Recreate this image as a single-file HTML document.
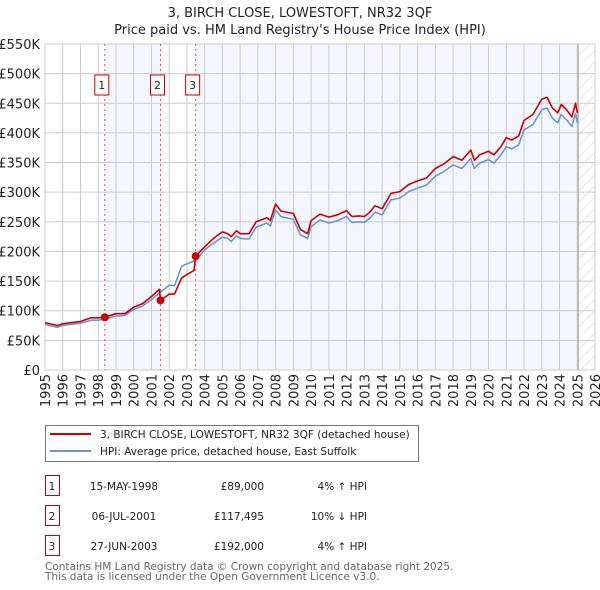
<!DOCTYPE html>
<html><head><meta charset="utf-8"><style>
body{margin:0;background:#fff;font-family:"DejaVu Sans","Liberation Sans",sans-serif;}
#wrap{position:relative;width:600px;height:590px;overflow:hidden}
svg text{font-family:"DejaVu Sans","Liberation Sans",sans-serif}
</style></head><body><div id="wrap">
<svg id="c" width="600" height="590"></svg>
</div>
<script>
const hpiDates=[1995.0,1995.7,1996.0,1997.0,1997.6,1998.0,1998.37,1999.0,1999.5,2000.0,2000.5,2001.0,2001.5,2002.0,2002.3,2002.7,2003.0,2003.5,2004.0,2004.5,2005.0,2005.3,2005.5,2005.8,2006.0,2006.5,2006.9,2007.5,2007.7,2008.0,2008.3,2009.0,2009.4,2009.8,2010.0,2010.5,2011.0,2011.5,2012.0,2012.3,2012.7,2013.0,2013.3,2013.6,2014.0,2014.5,2015.0,2015.5,2016.0,2016.5,2017.0,2017.5,2018.0,2018.5,2019.0,2019.2,2019.5,2020.0,2020.3,2020.7,2021.0,2021.3,2021.7,2022.0,2022.5,2023.0,2023.3,2023.6,2023.9,2024.1,2024.4,2024.7,2024.9,2025.0];
const hpiValues=[77,72,75,79,84,84,86,91,92,102,108,119,131,143,142,175,179,185,203,214,224,222,217,226,222,221,241,248,243,270,259,254,228,222,242,253,248,252,259,249,250,249,256,266,262,287,290,301,307,312,327,335,346,340,357,340,349,355,349,363,377,373,380,405,414,439,442,425,417,431,422,411,433,417];
const priceDates=[1995.0,1995.7,1996.0,1997.0,1997.6,1998.0,1998.37,1999.0,1999.5,2000.0,2000.5,2001.0,2001.45,2001.51,2002.0,2002.3,2002.7,2003.0,2003.4,2003.49,2004.0,2004.5,2005.0,2005.3,2005.5,2005.8,2006.0,2006.5,2006.9,2007.5,2007.7,2008.0,2008.3,2009.0,2009.4,2009.8,2010.0,2010.5,2011.0,2011.5,2012.0,2012.3,2012.7,2013.0,2013.3,2013.6,2014.0,2014.5,2015.0,2015.5,2016.0,2016.5,2017.0,2017.5,2018.0,2018.5,2019.0,2019.2,2019.5,2020.0,2020.3,2020.7,2021.0,2021.3,2021.7,2022.0,2022.5,2023.0,2023.3,2023.6,2023.9,2024.1,2024.4,2024.7,2024.9,2025.0];
const priceValues=[80,75,78,82,88,88,89,95,95,106,112,124,136,117.5,128,128,155,161,168,192,208,222,233,230,225,235,230,230,250,257,252,280,268,264,237,230,252,263,258,262,269,259,260,259,266,277,272,298,301,313,319,324,340,348,360,354,371,354,363,369,363,377,392,388,395,421,431,457,460,442,434,448,439,427,450,434];
const saleDates=[1998.37,2001.51,2003.49];
const saleValues=[89,117.5,192];
const saleLabels=["1","2","3"];
const yTicks=[0,50,100,150,200,250,300,350,400,450,500,550];
const yTickLabels=["£0","£50K","£100K","£150K","£200K","£250K","£300K","£350K","£400K","£450K","£500K","£550K"];
const xYears=[1995,1996,1997,1998,1999,2000,2001,2002,2003,2004,2005,2006,2007,2008,2009,2010,2011,2012,2013,2014,2015,2016,2017,2018,2019,2020,2021,2022,2023,2024,2025,2026];
const dataEnd=2025.05;

const L=45,R=595,T=44,B=370;
const x=v=>L+(v-1995)/(2026-1995)*(R-L);
const y=v=>B-v/550*(B-T);
const NS="http://www.w3.org/2000/svg";
const svg=document.getElementById('c');
function mk(tag,at,parent){const e=document.createElementNS(NS,tag);for(const k in at)e.setAttribute(k,at[k]);(parent||svg).appendChild(e);return e;}

let t=mk('text',{x:300,y:17,'text-anchor':'middle','font-size':13,fill:'#222'});t.textContent="3, BIRCH CLOSE, LOWESTOFT, NR32 3QF";


t=mk('text',{x:300,y:34,'text-anchor':'middle','font-size':13,fill:'#222'});t.textContent="Price paid vs. HM Land Registry's House Price Index (HPI)";



const defs=mk('defs',{});
const pat=mk('pattern',{id:'hatch',width:8,height:8,patternUnits:'userSpaceOnUse',patternTransform:'rotate(45)'},defs);
mk('line',{x1:0,y1:0,x2:0,y2:8,stroke:'#ccc','stroke-width':1},pat);

let s=mk('rect',{x:x(saleDates[0]),y:T,width:x(saleDates[1])-x(saleDates[0]),height:B-T,fill:'#f3f6fd'});


s=mk('rect',{x:x(saleDates[2]),y:T,width:x(dataEnd)-x(saleDates[2]),height:B-T,fill:'#f3f6fd'});


s=mk('rect',{x:x(dataEnd),y:T,width:R-x(dataEnd),height:B-T,fill:'url(#hatch)'});



yTicks.forEach((v,i)=>{
  const l=mk('line',{x1:L,x2:R,y1:y(v),y2:y(v),stroke:'#ccc','stroke-width':1});
  
  
  const tx=mk('text',{x:L-5,y:y(v)+5,'text-anchor':'end','font-size':13,fill:'#222'});tx.textContent=yTickLabels[i];
  
  
});
xYears.forEach(v=>{
  const l=mk('line',{x1:x(v),x2:x(v),y1:T,y2:B,stroke:'#ccc','stroke-width':1});
  
  
  const tx=mk('text',{x:0,y:0,'text-anchor':'end','font-size':13,fill:'#222',transform:`translate(${x(v)+5},374) rotate(-90)`});tx.textContent=v;
  
  
});
let dl=mk('line',{x1:x(dataEnd),x2:x(dataEnd),y1:T,y2:B,stroke:'#999','stroke-width':1});


let fr=mk('rect',{x:L,y:T,width:R-L,height:B-T,fill:'none',stroke:'#ccc'});



saleDates.forEach((d,i)=>{
  const l=mk('line',{x1:x(d),x2:x(d),y1:T,y2:B,stroke:'#e55','stroke-width':1,'stroke-dasharray':'2,3'});
  
  
  const g=mk('g',{});
  
  
  mk('rect',{x:x(d)-10,y:75,width:14,height:20,fill:'#fff',stroke:'#c00','stroke-width':1},g);
  const tx=mk('text',{x:x(d)-3,y:89,'text-anchor':'middle','font-size':11,fill:'#222'},g);tx.textContent=saleLabels[i];
});

function line(dates,vals,color,name){
  const p=mk('polyline',{points:dates.map((d,i)=>x(d).toFixed(1)+','+y(vals[i]).toFixed(1)).join(' '),fill:'none',stroke:color,'stroke-width':1.6,'stroke-linejoin':'round'});
  
  
}
line(hpiDates,hpiValues,'#6a96d6','hpi-line');
line(priceDates,priceValues,'#cc0000','price-paid-line');
saleDates.forEach((d,i)=>{
  const c=mk('circle',{cx:x(d),cy:y(saleValues[i]),r:4,fill:'#cc0000'});
  
  
});

const lg=mk('g',{});


mk('rect',{x:45.5,y:425.5,width:373,height:36,fill:'#fff',stroke:'#777'},lg);
mk('line',{x1:50,x2:91,y1:434,y2:434,stroke:'#cc0000','stroke-width':2},lg);
mk('line',{x1:50,x2:91,y1:451,y2:451,stroke:'#6a96d6','stroke-width':2},lg);
let e=mk('text',{x:100,y:438,'font-size':10.5,fill:'#222'},lg);e.textContent="3, BIRCH CLOSE, LOWESTOFT, NR32 3QF (detached house)";


e=mk('text',{x:100,y:455,'font-size':10.5,fill:'#222'},lg);e.textContent="HPI: Average price, detached house, East Suffolk";



const rows=[["1","15-MAY-1998","£89,000","4% ↑ HPI"],["2","06-JUL-2001","£117,495","10% ↓ HPI"],["3","27-JUN-2003","£192,000","4% ↑ HPI"]];
rows.forEach((r,i)=>{
  const yy=483+i*30;
  const g=mk('g',{});
  
  
  mk('rect',{x:45.5,y:yy-7.5,width:14,height:20,fill:'#fff',stroke:'#c00'},g);
  let a=mk('text',{x:52,y:yy+7,'text-anchor':'middle','font-size':10.5,fill:'#222'},g);a.textContent=r[0];
  a=mk('text',{x:124,y:yy+7,'text-anchor':'middle','font-size':10.5,fill:'#222'},g);a.textContent=r[1];
  a=mk('text',{x:264,y:yy+7,'text-anchor':'end','font-size':10.5,fill:'#222'},g);a.textContent=r[2];
  a=mk('text',{x:367,y:yy+7,'text-anchor':'end','font-size':10.5,fill:'#222'},g);a.textContent=r[3];
});
let f=mk('text',{x:45,y:570,'font-size':10.5,fill:'#666'});f.textContent="Contains HM Land Registry data © Crown copyright and database right 2025.";


f=mk('text',{x:45,y:580,'font-size':10.5,fill:'#666'});f.textContent="This data is licensed under the Open Government Licence v3.0.";


</script></body></html>
